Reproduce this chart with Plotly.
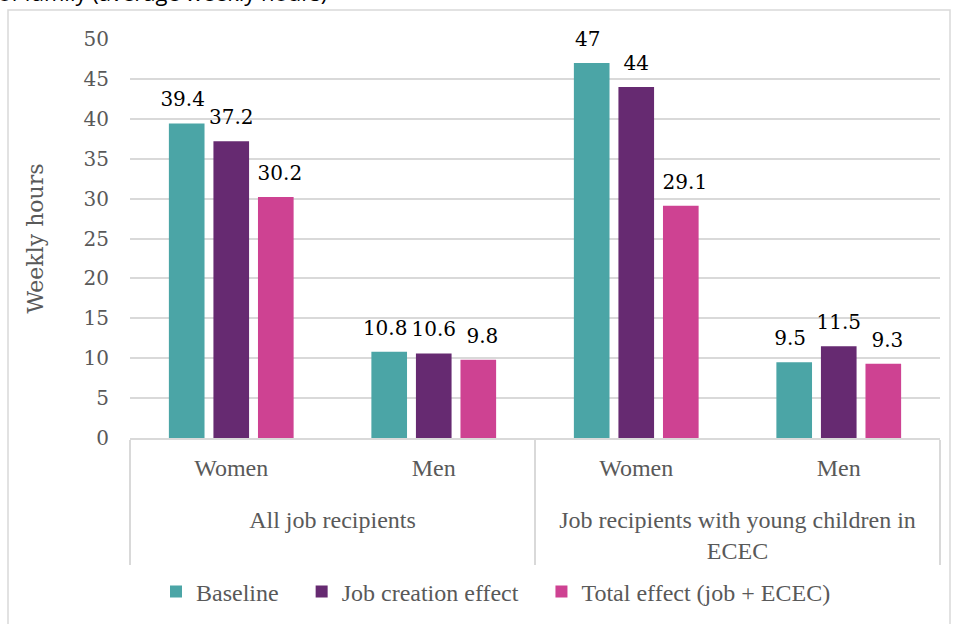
import plotly.graph_objects as go

groups = ["All job recipients", "All job recipients",
          "Job recipients with young children in<br>ECEC", "Job recipients with young children in<br>ECEC"]
genders = ["Women", "Men", "Women", "Men"]
series_names = ["Baseline", "Job creation effect", "Total effect (job + ECEC)"]
baseline = [39.4, 10.8, 47, 9.5]
job_creation = [37.2, 10.6, 44, 11.5]
total_effect = [30.2, 9.8, 29.1, 9.3]
colors = ["#4BA5A6", "#662A71", "#CE4292"]
y_ticks = [0, 5, 10, 15, 20, 25, 30, 35, 40, 45, 50]

serif = "DejaVu Serif"
cat_font = "Liberation Serif"
outer = [" <br>" + g for g in groups]
x_cat = [outer, genders]
legend_pad = [3, 3, 0]

fig = go.Figure()
all_series = [baseline, job_creation, total_effect]
for name, vals, col, pad in zip(series_names, all_series, colors, legend_pad):
    fig.add_trace(go.Bar(
        x=x_cat, y=vals, name=name + "\u00a0" * pad, marker=dict(color=col, line=dict(width=0)),
        hoverinfo="y",
    ))
for vals in all_series:
    fig.add_trace(go.Scatter(
        x=x_cat, y=vals, mode="markers+text", text=[f"{v:g}" for v in vals],
        textposition="top center",
        marker=dict(size=18, opacity=0), showlegend=False, hoverinfo="skip",
        textfont=dict(family=serif, size=20, color="#000000"), cliponaxis=False,
    ))

W, H = 955, 624
L, R, T, B = 130, 15, 39, 186
pw, ph = W - L - R, H - T - B

def px(x):
    return (x - L) / pw

def py(y):
    return (H - B - y) / ph

fig.update_layout(
    width=W, height=H, margin=dict(l=L, r=R, t=T, b=B, autoexpand=False),
    paper_bgcolor="white", plot_bgcolor="white",
    barmode="group", bargap=0.34, bargroupgap=0.2,
    scattermode="group", scattergap=0.28,
    font=dict(family=serif, color="#595959"),
    legend=dict(orientation="h", x=px(496), y=py(592), xanchor="center", yanchor="middle",
                font=dict(family=cat_font, size=24, color="#595959"),
                itemwidth=30, traceorder="normal"),
    yaxis=dict(range=[0, 50], tickvals=y_ticks, showgrid=True, gridcolor="#D9D9D9", gridwidth=1.5,
               zeroline=False, showline=False, ticks="", ticklabelstandoff=20,
               tickfont=dict(family=serif, size=20, color="#595959"),
               title=dict(text="Weekly hours", font=dict(family=serif, size=22, color="#595959"), standoff=33)),
    xaxis=dict(type="multicategory", showline=True, linecolor="#D9D9D9", linewidth=1.5,
               showdividers=True, dividercolor="#D9D9D9", dividerwidth=1.5, ticks="",
               ticklabelstandoff=7,
               tickfont=dict(family=cat_font, size=24, color="#595959")),
    showlegend=True,
)
fig.add_shape(type="rect", xref="paper", yref="paper", x0=px(8), x1=px(950), y0=py(650), y1=py(10),
              line=dict(color="#D9D9D9", width=1.5), fillcolor="rgba(0,0,0,0)", layer="below")
fig.add_annotation(text="of family (average weekly hours)", xref="paper", yref="paper",
                   x=px(-4), y=py(9), xanchor="left", yanchor="bottom", showarrow=False,
                   font=dict(family="Open Sans", size=22, color="#000000"))
fig.write_html("out.html", config={"displayModeBar": False},
               post_script="document.body.style.margin='0';")
